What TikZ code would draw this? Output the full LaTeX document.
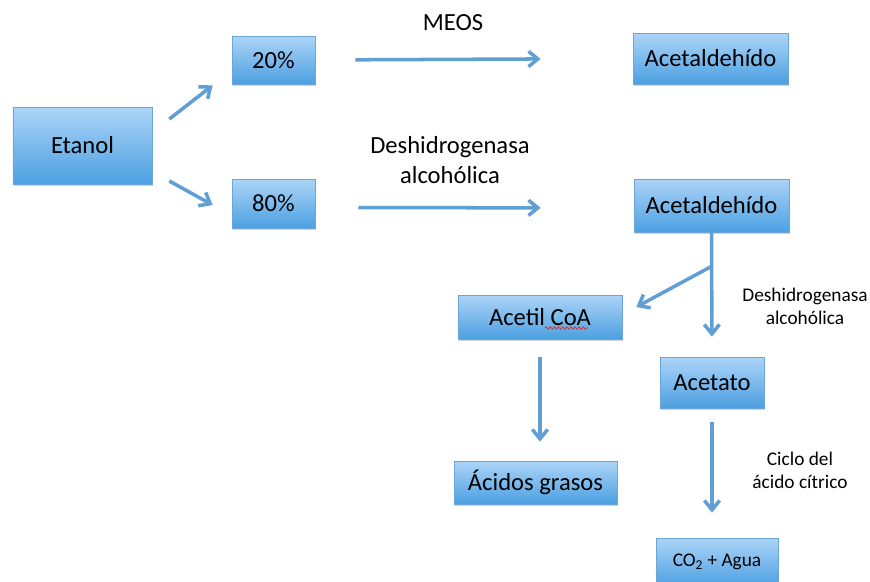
\documentclass[tikz,border=0pt]{standalone}
\usepackage{fontspec}
\setmainfont{Carlito}
\usepackage{tikz}
\usetikzlibrary{arrows.meta}
\usetikzlibrary{shadows}
\usetikzlibrary{decorations.pathmorphing}

\definecolor{boxtop}{RGB}{172,212,247}
\definecolor{boxbot}{RGB}{76,160,226}
\definecolor{boxline}{RGB}{110,165,215}
\definecolor{arrowblue}{RGB}{96,158,212}
\definecolor{spellred}{RGB}{222,50,50}

\newcommand{\bigtxt}{\fontsize{21pt}{25.6pt}\selectfont}
\newcommand{\smalltxt}{\fontsize{16.5pt}{19.5pt}\selectfont}

\tikzset{
  box/.style={draw=boxline, line width=0.6pt, top color=boxtop, bottom color=boxbot,
    inner sep=0pt, font=\bigtxt,
    drop shadow={opacity=0.35, shadow xshift=0.6pt, shadow yshift=-1.5pt}},
  flow/.style={draw=arrowblue, line width=3pt, -{Straight Barb[length=8pt,width=13pt]}},
  lbl/.style={align=center, inner sep=0pt}
}

\begin{document}
\begin{tikzpicture}[x=0.03cm, y=-0.03cm]
\useasboundingbox (0,0) rectangle (870,581);
% boxes
\node[box, minimum width=4.17cm, minimum height=2.31cm] (et) at (82.5,145.5) {Etanol};
\node[box, minimum width=2.49cm, minimum height=1.44cm] (p20) at (273.5,60) {20\%};
\node[box, minimum width=2.49cm, minimum height=1.47cm] (p80) at (273.5,203.5) {80\%};
\node[box, minimum width=4.65cm, minimum height=1.53cm] (ac1) at (710.5,58.5) {Acetaldehído};
\node[box, minimum width=4.65cm, minimum height=1.59cm] (ac2) at (711.5,205.5) {Acetaldehído};
\node[box, minimum width=4.92cm, minimum height=1.32cm] (acetil) at (540,317) {Acetil CoA};
\node[box, minimum width=3.12cm, minimum height=1.53cm] (acetato) at (712,382.5) {Acetato};
\node[box, minimum width=4.89cm, minimum height=1.29cm] (acidos) at (535.5,482.5) {Ácidos grasos};
\node[box, minimum width=3.66cm, minimum height=1.44cm, font=\smalltxt] (co2) at (717,562) {CO\textsubscript{2} + Agua};
% labels
\node[lbl, font=\bigtxt] (meos) at (453,23) {MEOS};
\node[lbl, font=\bigtxt] (adh1) at (450,160) {Deshidrogenasa\\alcohólica};
\node[lbl, font=\smalltxt] (adh2) at (805,306) {Deshidrogenasa\\alcohólica};
\node[lbl, font=\smalltxt] (ciclo) at (800,470) {Ciclo del\\ácido cítrico};
% arrows
\draw[flow] ([shift={(17,-26.5)}]et.east) -- ([shift={(-19,1)}]p20.south west);
\draw[flow] ([shift={(17,35.5)}]et.east) -- ([shift={(-19,1.5)}]p80.west);
\draw[flow, shorten <=1.2cm, shorten >=2.76cm] (p20.east) -- (ac1.west);
\draw[flow, shorten <=1.29cm, shorten >=2.79cm] ([shift={(0,4)}]p80.east) -- ([shift={(0,2.5)}]ac2.west);
\coordinate (split) at ([shift={(0,34)}]ac2.south);
\draw[flow, shorten >=0.6cm] (ac2.south) -- (acetato.north);
\draw[flow] (split) -- ([shift={(14,-10)}]acetil.east);
\draw[flow, shorten <=0.54cm, shorten >=0.57cm] (acetil.south) -- (acetil.south |- acidos.north);
\draw[flow, shorten <=0.42cm, shorten >=0.75cm] (acetato.south) -- (acetato.south |- co2.north);
% spell check underline
\draw[spellred, line width=0.7pt, decorate, decoration={snake, amplitude=1pt, segment length=3.5pt}]
  ([shift={(5,11)}]acetil.center) -- ([shift={(48,11)}]acetil.center);
\end{tikzpicture}
\end{document}
